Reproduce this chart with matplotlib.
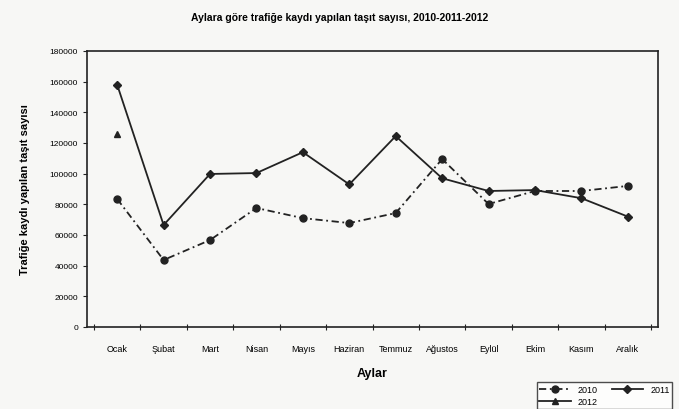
import matplotlib
matplotlib.use("Agg")
import matplotlib.pyplot as plt
import numpy as np

plt.rcParams['font.family'] = ['Liberation Sans Narrow', 'Liberation Sans', 'DejaVu Sans']

months = ["Ocak", "Şubat", "Mart", "Nisan", "Mayıs", "Haziran",
          "Temmuz", "Ağustos", "Eylül", "Ekim", "Kasım", "Aralık"]
v2010 = [83500, 43700, 56700, 77600, 71000, 67800, 74300, 109500, 80200, 88700, 88700, 92000]
v2011 = [158000, 66500, 99800, 100400, 114000, 93000, 124500, 97000, 88700, 89300, 84000, 72000]
v2012 = [125800]

ink = "#222222"
fig = plt.figure(figsize=(6.79, 4.10), dpi=100)
fig.patch.set_facecolor("#f7f7f5")
ax = fig.add_axes([87/679, 1-328/410, (658-87)/679, (328-52)/410])
ax.set_facecolor("#f7f7f5")

x = np.arange(len(months))
l10, = ax.plot(x, v2010, color=ink, linestyle=(0, (4, 2, 1, 2)), lw=1.3,
               marker="o", ms=5, label="2010")
l11, = ax.plot(x, v2011, color=ink, linestyle="-", lw=1.3,
               marker="D", ms=4.5, label="2011")
l12, = ax.plot(x[:len(v2012)], v2012, color=ink, linestyle="-", lw=1.3,
               marker="^", ms=5, label="2012")

ax.set_xlim(-0.65, 11.65)
ax.set_ylim(0, 180000)
ax.set_yticks(np.arange(0, 180001, 20000))
ax.set_yticklabels([str(v) for v in range(0, 180001, 20000)], fontsize=6)
ax.set_xticks(np.arange(-0.5, 12, 1))
ax.set_xticklabels([])
ax.set_xticks(x, minor=True)
ax.set_xticklabels(months, minor=True, fontsize=6.5)
ax.tick_params(axis="x", which="minor", length=0, pad=12)
ax.tick_params(axis="x", which="major", direction="inout", length=5, color=ink)
ax.tick_params(axis="y", direction="out", length=3, color=ink)
for s in ax.spines.values():
    s.set_color(ink)
    s.set_linewidth(1.2)

ax.set_xlabel("Aylar", fontsize=9, fontweight="bold", labelpad=10)
ax.set_ylabel("Trafiğe kaydı yapılan taşıt sayısı", fontsize=8, fontweight="bold", labelpad=14)
fig.text(0.5, 1-18/410, "Aylara göre trafiğe kaydı yapılan taşıt sayısı, 2010-2011-2012",
         ha="center", va="center", fontsize=7.5, fontweight="bold")

# row-major order: 2010, 2011 on the first row, 2012 below
leg = fig.legend([l10, l12, l11], ["2010", "2012", "2011"],
                 loc="lower right", bbox_to_anchor=(677/679, -0.01), ncol=2,
                 fontsize=6.5, frameon=True, fancybox=False, edgecolor=ink,
                 handlelength=3.5, columnspacing=1.5, borderpad=0.3, labelspacing=0.3)
leg.get_frame().set_facecolor("white")

fig.savefig("out.png", dpi=100, facecolor=fig.get_facecolor())
